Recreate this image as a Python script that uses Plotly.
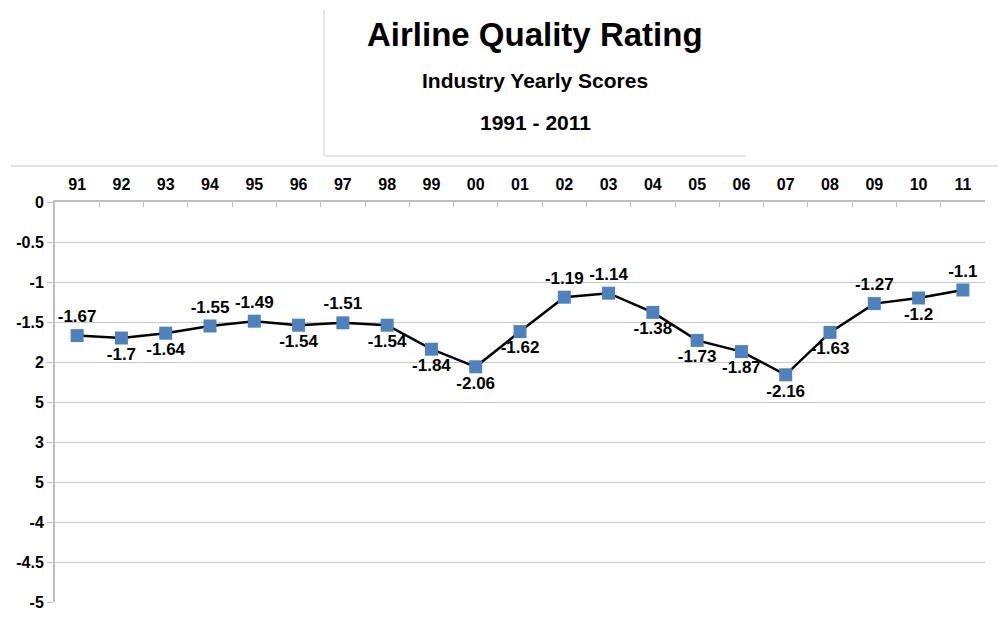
import plotly.graph_objects as go

years = ["91", "92", "93", "94", "95", "96", "97", "98", "99", "00", "01",
         "02", "03", "04", "05", "06", "07", "08", "09", "10", "11"]
scores = [-1.67, -1.7, -1.64, -1.55, -1.49, -1.54, -1.51, -1.54, -1.84, -2.06, -1.62,
          -1.19, -1.14, -1.38, -1.73, -1.87, -2.16, -1.63, -1.27, -1.2, -1.1]
label_pos = ["top center", "bottom center", "bottom center", "top center", "top center",
             "bottom center", "top center", "bottom center", "bottom center", "bottom center",
             "bottom center", "top center", "top center", "bottom center", "bottom center",
             "bottom center", "bottom center", "bottom center", "top center", "bottom center",
             "top center"]
y_tickvals = [0, -0.5, -1, -1.5, -2, -2.5, -3, -3.5, -4, -4.5, -5]
y_ticktext = ["0", "-0.5", "-1", "-1.5", "2", "5", "3", "5", "-4", "-4.5", "-5"]

FONT = "Arial, Liberation Sans, sans-serif"

W, H = 998, 627
L, R, T, B = 55, 13, 202, 25
pw, ph = W - L - R, H - T - B


def px(x):
    return (x - L) / pw


def py(y):
    return (H - B - y) / ph


fig = go.Figure()
fig.add_trace(go.Scatter(
    x=years, y=scores,
    mode="lines+markers+text",
    line=dict(color="black", width=2.5),
    marker=dict(symbol="square", size=13, color="#4F81BD",
                line=dict(color="#4F81BD", width=0)),
    text=[str(v) for v in scores],
    textposition=label_pos,
    textfont=dict(family=FONT, size=17, color="black", weight="bold"),
    cliponaxis=False,
    showlegend=False,
))

fig.update_layout(
    width=W, height=H,
    paper_bgcolor="white", plot_bgcolor="white",
    margin=dict(l=L, r=R, t=T, b=B),
    font=dict(family=FONT, color="black"),
    xaxis=dict(
        type="category", side="top", range=[-0.5, 20.5],
        showgrid=False, showline=True, linecolor="#BFBFBF", linewidth=2,
        ticks="inside", ticklen=5, tickcolor="#BFBFBF", tickson="boundaries",
        tickfont=dict(family=FONT, size=16, color="black", weight="bold"),
        ticklabelstandoff=4, fixedrange=True,
    ),
    yaxis=dict(
        range=[-5, 0], tickvals=y_tickvals, ticktext=y_ticktext,
        showgrid=True, gridcolor="#C8C8C8", gridwidth=1,
        showline=True, linecolor="#BFBFBF", linewidth=2,
        ticks="outside", ticklen=6, tickcolor="#BFBFBF",
        tickfont=dict(family=FONT, size=16, color="black", weight="bold"),
        zeroline=False, fixedrange=True,
    ),
    shapes=[
        dict(type="line", xref="paper", yref="paper", x0=px(11), x1=px(998), y0=py(166), y1=py(166),
             line=dict(color="#E3E3E3", width=2)),
        dict(type="line", xref="paper", yref="paper", x0=px(324), x1=px(324), y0=py(156), y1=py(10),
             line=dict(color="#E8E8E8", width=2)),
        dict(type="line", xref="paper", yref="paper", x0=px(324), x1=px(746), y0=py(156), y1=py(156),
             line=dict(color="#E8E8E8", width=2)),
    ],
)

fig.add_annotation(x=px(535), y=py(34), xref="paper", yref="paper", showarrow=False,
                   text="Airline Quality Rating", xanchor="center", yanchor="middle",
                   font=dict(family=FONT, size=33, color="black", weight="bold"))
fig.add_annotation(x=px(535), y=py(80), xref="paper", yref="paper", showarrow=False,
                   text="Industry Yearly Scores", xanchor="center", yanchor="middle",
                   font=dict(family=FONT, size=21, color="black", weight="bold"))
fig.add_annotation(x=px(535), y=py(122), xref="paper", yref="paper", showarrow=False,
                   text="1991 - 2011", xanchor="center", yanchor="middle",
                   font=dict(family=FONT, size=21, color="black", weight="bold"))

fig.write_html("out.html", config={"displayModeBar": False},
               post_script="document.body.style.margin='0px';")
